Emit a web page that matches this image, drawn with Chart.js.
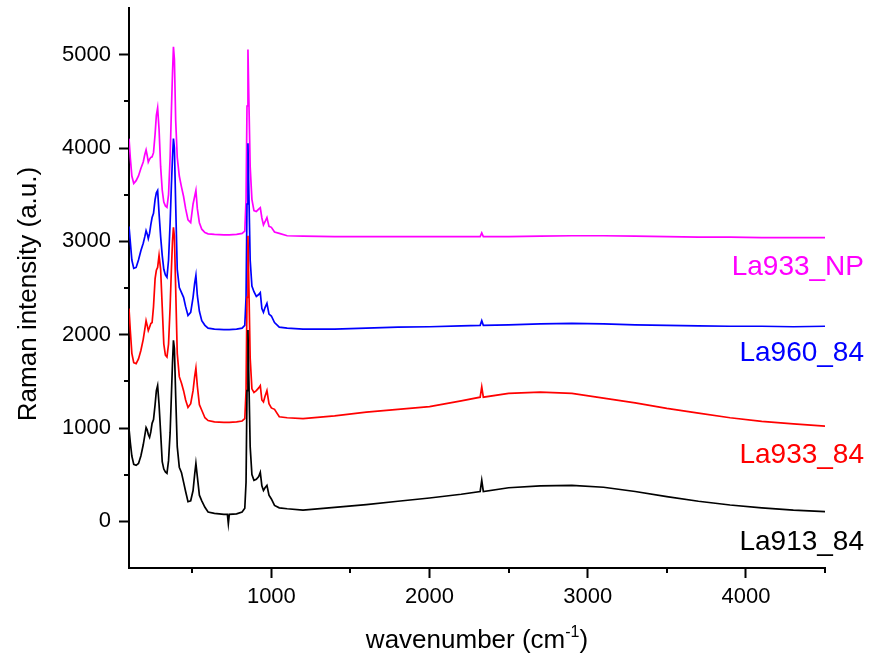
<!DOCTYPE html>
<html>
<head>
<meta charset="utf-8">
<script src="https://cdn.jsdelivr.net/npm/chart.js@4"></script>
<style>
  html, body { margin: 0; padding: 0; background: #fff; }
  #wrap { width: 869px; height: 659px; }
</style>
</head>
<body>
<div id="wrap"><canvas id="raman" width="869" height="659"></canvas></div>
<script>
// Raman spectra
const wavenumbers = [100, 108, 118, 130, 145, 160, 175, 190, 200, 208, 215, 222, 230, 238, 246, 255, 265, 273, 281, 290,
  300, 310, 320, 330, 340, 350, 360, 368, 375, 381, 387, 395, 405, 418, 432, 445, 458, 473, 490, 505,
  515, 523, 532, 545, 560, 580, 600, 640, 700, 722, 728, 734, 780, 815, 832, 840, 846, 852, 858, 866,
  877, 890, 905, 920, 930, 940, 950, 960, 972, 985, 1000, 1020, 1050, 1100, 1200, 1400, 1600, 1800, 2000, 2200,
  2320, 2330, 2340, 2500, 2700, 2900, 3100, 3300, 3500, 3700, 3900, 4100, 4300, 4500];

const la913_84 = [995, 850, 700, 610, 600, 620, 700, 820, 920, 1005, 980, 930, 900, 960, 1050, 1090, 1250, 1400, 1455, 1250,
  950, 640, 560, 530, 515, 650, 950, 1350, 1700, 1940, 1850, 1350, 800, 580, 520, 420, 320, 210, 220, 330,
  500, 620, 480, 280, 220, 150, 100, 85, 75, 75, -25, 75, 80, 100, 140, 420, 1400, 2050, 1500, 800,
  500, 440, 450, 480, 525, 380, 330, 360, 385, 280, 240, 170, 145, 135, 120, 150, 180, 215, 250, 290,
  320, 440, 320, 360, 380, 385, 365, 320, 265, 215, 175, 145, 120, 105];

const la933_84 = [2280, 2050, 1800, 1700, 1690, 1740, 1830, 1950, 2060, 2150, 2100, 2045, 2080, 2120, 2130, 2300, 2600, 2690, 2720, 2850,
  2700, 2300, 1900, 1780, 1760, 1900, 2300, 2700, 3000, 3150, 3050, 2500, 1800, 1550, 1480, 1400, 1300, 1220, 1260, 1400,
  1550, 1640, 1450, 1250, 1190, 1110, 1080, 1065, 1060, 1060, 1060, 1060, 1065, 1075, 1100, 1400, 2400, 3060, 2500, 1750,
  1420, 1380, 1400, 1430, 1455, 1300, 1280, 1340, 1400, 1260, 1215, 1200, 1120, 1110, 1100, 1130, 1170, 1200, 1230, 1290,
  1330, 1440, 1330, 1370, 1385, 1370, 1320, 1270, 1210, 1160, 1110, 1070, 1045, 1020];

const la960_84 = [3160, 3000, 2800, 2710, 2720, 2800, 2900, 2980, 3050, 3115, 3080, 3030, 3085, 3180, 3255, 3300, 3450, 3520, 3545, 3300,
  3050, 2850, 2700, 2640, 2615, 2800, 3200, 3600, 3900, 4100, 4000, 3400, 2700, 2505, 2450, 2400, 2300, 2205, 2240, 2400,
  2550, 2635, 2420, 2250, 2150, 2100, 2070, 2060, 2055, 2055, 2055, 2055, 2060, 2070, 2100, 2400, 3400, 4050, 3500, 2800,
  2520, 2460, 2410, 2430, 2450, 2280, 2240, 2290, 2335, 2220, 2200, 2130, 2080, 2070, 2060, 2060, 2070, 2080, 2085, 2095,
  2100, 2150, 2100, 2105, 2115, 2120, 2115, 2105, 2100, 2095, 2090, 2090, 2085, 2090];

const la933_np = [4100, 3900, 3700, 3620, 3650, 3700, 3780, 3850, 3930, 3980, 3920, 3850, 3880, 3900, 3905, 3950, 4150, 4350, 4430, 4200,
  3800, 3550, 3420, 3380, 3365, 3500, 3900, 4400, 4800, 5085, 4950, 4300, 3900, 3700, 3580, 3480, 3350, 3230, 3200, 3400,
  3480, 3545, 3350, 3200, 3130, 3095, 3080, 3075, 3070, 3070, 3070, 3070, 3075, 3085, 3110, 3450, 4450, 5055, 4500, 3800,
  3450, 3330, 3320, 3345, 3360, 3250, 3175, 3210, 3255, 3160, 3150, 3100, 3085, 3060, 3055, 3050, 3050, 3050, 3050, 3050,
  3050, 3090, 3050, 3050, 3055, 3060, 3060, 3055, 3050, 3045, 3045, 3040, 3040, 3040];

const seriesNames = ['La913_84', 'La933_84', 'La960_84', 'La933_NP'];
const seriesColors = ['#000000', '#ff0000', '#0000ff', '#ff00ff'];
const seriesValues = [la913_84, la933_84, la960_84, la933_np];
const labelY = [542, 455, 353, 267];

const xTicks = [1000, 2000, 3000, 4000];
const xMinor = [500, 1500, 2500, 3500, 4500];
const yTicks = [0, 1000, 2000, 3000, 4000, 5000];
const yMinor = [500, 1500, 2500, 3500, 4500];

const FONT = '"Liberation Sans", Arial, sans-serif';

const datasets = seriesValues.map((vals, i) => ({
  label: seriesNames[i],
  data: wavenumbers.map((w, j) => ({ x: w, y: vals[j] })),
  borderColor: seriesColors[i],
  borderWidth: 1.7,
  pointRadius: 0,
  tension: 0,
  fill: false
}));

// minor ticks, axis titles, series names at the right
const extras = {
  id: 'extras',
  afterDraw(chart) {
    const ctx = chart.ctx;
    const xs = chart.scales.x, ys = chart.scales.y;
    const area = chart.chartArea;
    ctx.save();
    ctx.strokeStyle = '#000';
    ctx.lineWidth = 2;
    ctx.beginPath();
    xMinor.forEach(v => {
      const px = Math.round(xs.getPixelForValue(v));
      ctx.moveTo(px, area.bottom);
      ctx.lineTo(px, area.bottom + 5);
    });
    yMinor.forEach(v => {
      const py = Math.round(ys.getPixelForValue(v));
      ctx.moveTo(area.left, py);
      ctx.lineTo(area.left - 5, py);
    });
    ctx.stroke();

    // x axis title, with superscript
    ctx.fillStyle = '#000';
    ctx.textBaseline = 'alphabetic';
    const main = 'wavenumber (cm', sup = '-1', close = ')';
    ctx.font = '26px ' + FONT;
    const w1 = ctx.measureText(main).width, w3 = ctx.measureText(close).width;
    ctx.font = '16px ' + FONT;
    const w2 = ctx.measureText(sup).width;
    let x0 = (area.left + area.right) / 2 - (w1 + w2 + w3) / 2;
    const base = 648;
    ctx.textAlign = 'left';
    ctx.font = '26px ' + FONT;
    ctx.fillText(main, x0, base);
    ctx.font = '16px ' + FONT;
    ctx.fillText(sup, x0 + w1, base - 11);
    ctx.font = '26px ' + FONT;
    ctx.fillText(close, x0 + w1 + w2, base);

    // y axis title
    ctx.save();
    ctx.translate(29, 294);
    ctx.rotate(-Math.PI / 2);
    ctx.textAlign = 'center';
    ctx.textBaseline = 'middle';
    ctx.font = '26px ' + FONT;
    ctx.fillText('Raman intensity (a.u.)', 0, 0);
    ctx.restore();

    // series names
    ctx.font = '28px ' + FONT;
    ctx.textAlign = 'right';
    ctx.textBaseline = 'middle';
    seriesNames.forEach((n, i) => {
      ctx.fillStyle = seriesColors[i];
      ctx.fillText(n, 864, labelY[i]);
    });
    ctx.restore();
  }
};

new Chart(document.getElementById('raman'), {
  type: 'line',
  data: { datasets: datasets },
  options: {
    responsive: false,
    animation: false,
    layout: { padding: { top: 8, right: 44, left: 0, bottom: 0 } },
    plugins: { legend: { display: false }, tooltip: { enabled: false } },
    scales: {
      x: {
        type: 'linear',
        min: 100,
        max: 4500,
        afterBuildTicks: s => { s.ticks = xTicks.map(v => ({ value: v })); },
        afterFit: s => { s.height = 91; s.paddingLeft = 0; s.paddingRight = 0; },
        border: { color: '#000', width: 2 },
        grid: { drawOnChartArea: false, color: '#000', tickLength: 10, tickWidth: 2 },
        ticks: { color: '#000', font: { family: FONT, size: 22 }, padding: 6, maxRotation: 0, autoSkip: false,
          callback: v => String(v) }
      },
      y: {
        min: -500,
        max: 5500,
        afterBuildTicks: s => { s.ticks = yTicks.map(v => ({ value: v })); },
        afterFit: s => { s.width = 129; s.paddingTop = 0; s.paddingBottom = 0; },
        border: { color: '#000', width: 2 },
        grid: { drawOnChartArea: false, color: '#000', tickLength: 10, tickWidth: 2 },
        ticks: { color: '#000', font: { family: FONT, size: 22 }, padding: 8, autoSkip: false,
          callback: v => String(v) }
      }
    }
  },
  plugins: [extras]
});
</script>
</body>
</html>
